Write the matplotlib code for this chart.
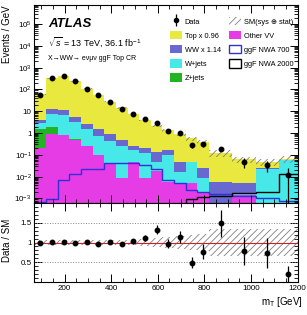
import numpy as np
import matplotlib
matplotlib.use('agg')
import matplotlib.pyplot as plt
from matplotlib.patches import Patch
from matplotlib.lines import Line2D
from matplotlib.ticker import FixedLocator, MultipleLocator, LogLocator, FuncFormatter, NullFormatter

plt.rcParams['font.family'] = ['Liberation Sans', 'DejaVu Sans']
plt.rcParams['mathtext.fontset'] = 'custom'
plt.rcParams['mathtext.rm'] = 'Liberation Sans'
plt.rcParams['mathtext.it'] = 'Liberation Sans:italic'
plt.rcParams['hatch.linewidth'] = 0.6

# mT binning [GeV]
edges = [70, 120, 170, 220, 270, 320, 370, 420, 470, 520, 570, 620, 670, 720, 770,
         820, 920, 1020, 1120, 1200]

# events / GeV
data = [58.4, 340, 405, 233, 110, 55.3, 27, 13.4, 7.9, 4.2, 2.8, 1.3, 1.0, 0.28, 0.30,
        0.19, 0.048, 0.036, 0.0125]
data_err = [1.1, 2.6, 2.8, 2.2, 1.5, 1.05, 0.73, 0.52, 0.4, 0.29, 0.24, 0.16, 0.14, 0.075,
            0.077, 0.044, 0.022, 0.019, 0.0124]

other_vv = [0.21, 0.94, 0.81, 0.5, 0.25, 0.1, 0.043, 0.0085, 0.045, 0.0085, 0.018, 0.006,
            0.005, 0.005, 0.002, 0.0005, 0.0015, 0.0003, 0.0003]
zjets = [1.39, 0.96, 0.01, 0.01, 0.01, 0, 0, 0, 0, 0, 0, 0, 0, 0, 0, 0, 0, 0, 0]
wjets = [1.4, 5.4, 5.68, 2.69, 1.34, 0.65, 0.41, 0.26, 0.115, 0.11, 0.027, 0.09, 0.011,
         0.042, 0.0065, 0.0001, 0.0001, 0.0227, 0.0557]
ww = [0.9, 5.1, 4.6, 2.3, 1.1, 0.73, 0.42, 0.2, 0.09, 0.09, 0.085, 0.063, 0.031, 0.001,
      0.0165, 0.0054, 0.0034, 0.002, 0.002]
top = [55.1, 320.6, 389.9, 229.5, 106.3, 55.5, 26.1, 13.6, 7.45, 3.6, 1.99, 1.18, 0.83,
       0.52, 0.365, 0.122, 0.057, 0.024, 0.0045]

nwa700 = [7e-4, 9.8e-4, 0.0068, 0.0138, 0.0215, 0.0215, 0.0436, 0.0436, 0.0436, 0.033,
          0.0235, 0.0068, 0.005, 0.0025, 0.002, 0.0016, 0.0013, 0.001, 0.0008]
nwa2000 = [1e-4, 1e-4, 1e-4, 1e-4, 1e-4, 1e-4, 1e-4, 1e-4, 1e-4, 1e-4, 1e-4, 2e-4, 4e-4,
           9e-4, 0.0012, 0.0013, 0.0017, 0.0019, 0.0128]

# relative SM uncertainty (sys + stat)
sm_unc = [0.06, 0.06, 0.06, 0.06, 0.06, 0.06, 0.06, 0.06, 0.06, 0.08, 0.12, 0.14, 0.16,
          0.2, 0.22, 0.35, 0.35, 0.35, 0.35]

# y tick positions of the upper panel
y_ticks = [1e-3, 1e-2, 1e-1, 1, 10, 1e2, 1e3, 1e4, 1e5]

c_top = '#E8E83E'
c_ww = '#6868D0'
c_wj = '#46E8E8'
c_zj = '#22B422'
c_vv = '#E63CE6'
c_700 = '#3030D8'

edges_a = np.array(edges, dtype=float)
centers = 0.5 * (edges_a[1:] + edges_a[:-1])

W, H = 307, 315
fig = plt.figure(figsize=(W / 100, H / 100), dpi=100)
x0, x1 = 34.4, 297.5
ax = fig.add_axes([x0 / W, 1 - 203 / H, (x1 - x0) / W, (203 - 5) / H])
rax = fig.add_axes([x0 / W, 1 - 282 / H, (x1 - x0) / W, (282 - 203) / H], sharex=ax)

# stacked backgrounds
base = np.full(len(data), 1e-6)
for vals, col in [(other_vv, c_vv), (zjets, c_zj), (wjets, c_wj), (ww, c_ww), (top, c_top)]:
    upper = base + np.array(vals)
    ax.stairs(upper, edges_a, baseline=base, fill=True, color=col, lw=0)
    base = upper
total = base
unc = np.array(sm_unc)

ax.stairs(total * (1 + unc), edges_a, baseline=total * (1 - unc), fill=True,
          facecolor='none', edgecolor='#808080', hatch='/////', lw=0)

ax.stairs(nwa700, edges_a, baseline=None, color=c_700, lw=1.0)
ax.stairs(nwa2000, edges_a, baseline=None, color='k', lw=1.0)

ax.errorbar(centers, data, yerr=data_err, fmt='o', color='k', ms=3.2, elinewidth=0.9, capsize=0)

ax.set_yscale('log')
ax.set_xlim(70, 1200)
ax.set_ylim(6.2e-4, 7.5e5)


def logfmt(v, pos):
    e = int(round(np.log10(v)))
    if e == 0:
        return '1'
    if e == 1:
        return '10'
    return r'$10^{%d}$' % e


ax.yaxis.set_major_locator(FixedLocator(y_ticks))
ax.yaxis.set_major_formatter(FuncFormatter(logfmt))
ax.yaxis.set_minor_locator(LogLocator(base=10, subs=np.arange(2, 10), numticks=20))
ax.yaxis.set_minor_formatter(NullFormatter())
ax.tick_params(axis='x', which='both', labelbottom=False)

# ratio panel
ratio = np.array(data) / total
ratio_err = np.array(data_err) / total
rax.stairs(1 + unc, edges_a, baseline=1 - unc, fill=True, facecolor='none',
           edgecolor='#808080', hatch='/////', lw=0)
rax.axhline(1.5, color='#888888', ls=':', lw=0.7)
rax.axhline(0.5, color='#888888', ls=':', lw=0.7)
rax.axhline(1.0, color='#CC2222', lw=0.8)
rax.errorbar(centers, ratio, yerr=ratio_err, fmt='o', color='k', ms=3.2, elinewidth=0.9, capsize=0)
rax.set_ylim(0.0, 2.0)
rax.yaxis.set_major_locator(FixedLocator([0.5, 1.0, 1.5]))
rax.yaxis.set_major_formatter(FuncFormatter(lambda v, p: '%g' % v))
rax.yaxis.set_minor_locator(MultipleLocator(0.1))
rax.xaxis.set_major_locator(MultipleLocator(200))
rax.xaxis.set_minor_locator(MultipleLocator(50))

for a in (ax, rax):
    a.tick_params(which='both', direction='in', top=True, right=True, labelsize=5.8, pad=2)
    a.tick_params(which='major', length=6, width=0.7)
    a.tick_params(which='minor', length=3, width=0.6)
    for s in a.spines.values():
        s.set_linewidth(0.8)

# axis titles
ax.set_ylabel('Events / GeV', fontsize=7, loc='top')
ax.yaxis.set_label_coords(-0.087, 1.0)
rax.set_ylabel('Data / SM', fontsize=7)
rax.yaxis.set_label_coords(-0.087, 0.53)
fig.text(303 / W, 1 - 302 / H, r'm$_{\mathrm{T}}$ [GeV]', fontsize=7, ha='right', va='center')

# labels
fig.text(48 / W, 1 - 24 / H, 'ATLAS', fontsize=9.5, fontweight='bold', style='italic',
         va='center')
fig.text(48 / W, 1 - 42 / H, r'$\sqrt{s}$ = 13 TeV, 36.1 fb$^{-1}$', fontsize=6.5, va='center')
fig.text(48 / W, 1 - 58 / H, 'X\u2192WW\u2192 e\u03bd\u03bc\u03bd ggF Top CR', fontsize=5, va='center')

# legend
data_h = (Line2D([], [], marker='|', color='k', ms=8, mew=0.9, ls='none'),
          Line2D([], [], marker='o', color='k', ms=3, ls='none'))
handles = [data_h,
           Patch(facecolor=c_top, edgecolor='none'),
           Patch(facecolor=c_ww, edgecolor='none'),
           Patch(facecolor=c_wj, edgecolor='none'),
           Patch(facecolor=c_zj, edgecolor='none'),
           Patch(facecolor='none', edgecolor='#808080', hatch='/////', lw=0),
           Patch(facecolor=c_vv, edgecolor='none'),
           Patch(facecolor='white', edgecolor=c_700, lw=1.0),
           Patch(facecolor='white', edgecolor='k', lw=1.0)]
labels = ['Data', 'Top x 0.96', 'WW x 1.14', 'W+jets', 'Z+jets',
          'SM(sys \u2295 stat)', 'Other VV', 'ggF NWA 700', 'ggF NWA 2000']
fig.legend(handles, labels, ncol=2, loc='upper left', bbox_to_anchor=(170 / W, 1 - 17 / H),
           frameon=False, fontsize=5.3, borderpad=0, borderaxespad=0,
           handlelength=1.6, handleheight=1.35, handletextpad=0.4,
           labelspacing=0.75, columnspacing=1.1)

fig.savefig('out.png', dpi=100)
